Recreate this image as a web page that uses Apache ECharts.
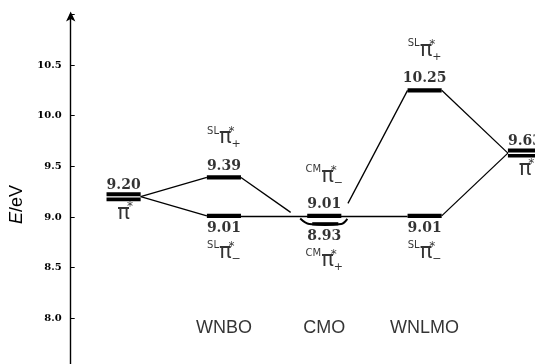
<!DOCTYPE html>
<html><head><meta charset="utf-8">
<script src="https://cdn.jsdelivr.net/npm/echarts@6/dist/echarts.min.js"></script>
<style>html,body{margin:0;padding:0;background:#fff}#c{width:535px;height:364px}</style>
</head><body><div id="c"></div>
<script>
// ---- data ----
const columnNames = ['', 'WNBO', 'CMO', 'WNLMO', ''];
const levelColumn = [0, 1, 1, 2, 2, 3, 3, 4];
const levelEnergy = [9.20, 9.39, 9.01, 9.01, 8.93, 10.25, 9.01, 9.63];
const levelValueText = ['9.20', '9.39', '9.01', '9.01', '8.93', '10.25', '9.01', '9.63'];
const levelOrbitalPrefix = ['', 'SL', 'SL', 'CM', 'CM', 'SL', 'SL', ''];
const levelOrbitalSign = ['', '+', '−', '−', '+', '+', '−', ''];
const levelKind = ['double', 'single', 'single', 'single', 'bracket', 'single', 'single', 'double'];
const levelLabelSide = ['top', 'top', 'bottom', 'top', 'bottom', 'top', 'bottom', 'top'];
const connectorFrom = [0, 0, 1, 2, 3, 5, 6];
const connectorTo = [1, 2, 4, 6, 5, 7, 7];
const connectorTrimStart = [0, 0, 0, 0, 0.1, 0, 0];
const connectorTrimEnd = [0, 0, 0.25, 0, 0, 0, 0];
const yTickValues = [8.0, 8.5, 9.0, 9.5, 10.0, 10.5];

// ---- styles ----
const barHalf = 0.17;
const categoryY = 7.9;
const ink = '#000';

const chart = echarts.init(document.getElementById('c'), null, {renderer: 'canvas'});

const levelData = levelColumn.map((c, i) => [c, levelEnergy[i]]);

const connectorData = connectorFrom.map((a, k) => {
  const b = connectorTo[k];
  const x1 = levelColumn[a] + barHalf, y1 = levelEnergy[a];
  const x2 = levelColumn[b] - barHalf, y2 = levelEnergy[b];
  const ts = connectorTrimStart[k], te = connectorTrimEnd[k];
  return {coords: [
    [x1 + (x2 - x1) * ts, y1 + (y2 - y1) * ts],
    [x2 - (x2 - x1) * te, y2 - (y2 - y1) * te]
  ]};
});

const valueLabelData = levelData.map((p, i) => ({
  value: p,
  label: {
    position: levelLabelSide[i],
    distance: levelLabelSide[i] === 'top' ? 4 : 5,
    formatter: levelValueText[i]
  }
}));

const orbitalLabelData = levelData.map((p, i) => {
  const pre = levelOrbitalPrefix[i];
  const side = pre ? levelLabelSide[i] : 'bottom';
  const text = pre
    ? `{sl|${pre}}{pi|π}{sup|*}{sub|${levelOrbitalSign[i]}}`
    : `{pi|π}{sup|*}`;
  return {
    value: p,
    label: {
      position: side,
      distance: pre ? (side === 'top' ? 27 : 24) : 4,
      formatter: text
    }
  };
});

const categoryData = columnNames.map((n, i) => ({value: [i, categoryY], name: n})).filter(d => d.name);

const option = {
  animation: false,
  grid: {left: 70.7, right: 0, top: 14.4, bottom: -4.8, containLabel: false, outerBoundsMode: 'none'},
  xAxis: {type: 'value', min: -0.527, max: 4.1, show: false},
  yAxis: {
    type: 'value', min: 7.5, max: 11.0, interval: 0.5,
    name: '{i|E}/eV',
    nameLocation: 'middle', nameRotate: 90, nameGap: 38,
    nameTextStyle: {
      fontFamily: 'Liberation Sans', fontSize: 18, color: ink, padding: [0, 26, 0, 0],
      rich: {i: {fontFamily: 'Liberation Sans', fontSize: 18, fontStyle: 'italic', color: ink}}
    },
    axisLine: {show: true, onZero: false, lineStyle: {color: ink, width: 1.4}, symbol: ['none', 'arrow'], symbolSize: [7, 10], symbolOffset: [0, 3]},
    axisTick: {show: true, inside: true, length: 4, lineStyle: {color: ink, width: 1}},
    splitLine: {show: false},
    axisLabel: {
      margin: 9, color: ink, fontFamily: 'DejaVu Serif', fontWeight: 'bold', fontSize: 10,
      formatter: v => yTickValues.some(t => Math.abs(t - v) < 1e-6) ? v.toFixed(1) : ''
    }
  },
  series: [
    {
      type: 'lines', coordinateSystem: 'cartesian2d', silent: true, z: 2,
      lineStyle: {color: ink, width: 1.3, opacity: 1},
      data: connectorData
    },
    {
      type: 'custom', z: 3, silent: true,
      data: levelData,
      renderItem(params, api) {
        const col = api.value(0), e = api.value(1), kind = levelKind[params.dataIndex];
        const p1 = api.coord([col - barHalf, e]);
        const p2 = api.coord([col + barHalf, e]);
        const w = p2[0] - p1[0];
        const style = {fill: ink};
        if (kind === 'single') {
          return {type: 'rect', shape: {x: p1[0], y: p1[1] - 2.2, width: w, height: 4.4}, style};
        }
        if (kind === 'double') {
          return {type: 'group', children: [
            {type: 'rect', shape: {x: p1[0], y: p1[1] - 4.5, width: w, height: 4}, style},
            {type: 'rect', shape: {x: p1[0], y: p1[1] + 0.8, width: w, height: 3.7}, style}
          ]};
        }
        const pts = [
          api.coord([col - 0.24, e + 0.055]),
          api.coord([col - 0.15, e]),
          api.coord([col + 0.17, e]),
          api.coord([col + 0.23, e + 0.05])
        ];
        const m1 = api.coord([col - 0.12, e]);
        const m2 = api.coord([col + 0.14, e]);
        return {type: 'group', children: [
          {type: 'polyline', shape: {points: pts, smooth: 0.35}, style: {stroke: ink, lineWidth: 2, fill: null}},
          {type: 'rect', shape: {x: m1[0], y: m1[1] - 1.8, width: m2[0] - m1[0], height: 3.2}, style}
        ]};
      }
    },
    {
      type: 'scatter', z: 4, silent: true, symbolSize: 1,
      itemStyle: {color: 'rgba(0,0,0,0)'},
      label: {show: true, color: ink, fontFamily: 'DejaVu Serif', fontWeight: 'bold', fontSize: 14},
      data: valueLabelData
    },
    {
      type: 'scatter', z: 4, silent: true, symbolSize: 1,
      itemStyle: {color: 'rgba(0,0,0,0)'},
      label: {
        show: true, color: ink, fontFamily: 'DejaVu Sans',
        rich: {
          sl: {fontSize: 10, fontFamily: 'DejaVu Sans', color: ink, verticalAlign: 'top', lineHeight: 12},
          pi: {fontSize: 21, fontFamily: 'DejaVu Sans', color: ink, lineHeight: 24},
          sup: {fontSize: 12, fontFamily: 'DejaVu Sans', color: ink, width: 0, verticalAlign: 'top', lineHeight: 12},
          sub: {fontSize: 11, fontFamily: 'DejaVu Sans', color: ink, verticalAlign: 'bottom', lineHeight: 12}
        }
      },
      data: orbitalLabelData
    },
    {
      type: 'scatter', z: 4, silent: true, symbolSize: 1,
      itemStyle: {color: 'rgba(0,0,0,0)'},
      label: {show: true, position: 'inside', formatter: p => p.name, color: ink, fontFamily: 'Liberation Sans', fontSize: 18},
      data: categoryData
    }
  ]
};
chart.setOption(option);
</script>
</body></html>
